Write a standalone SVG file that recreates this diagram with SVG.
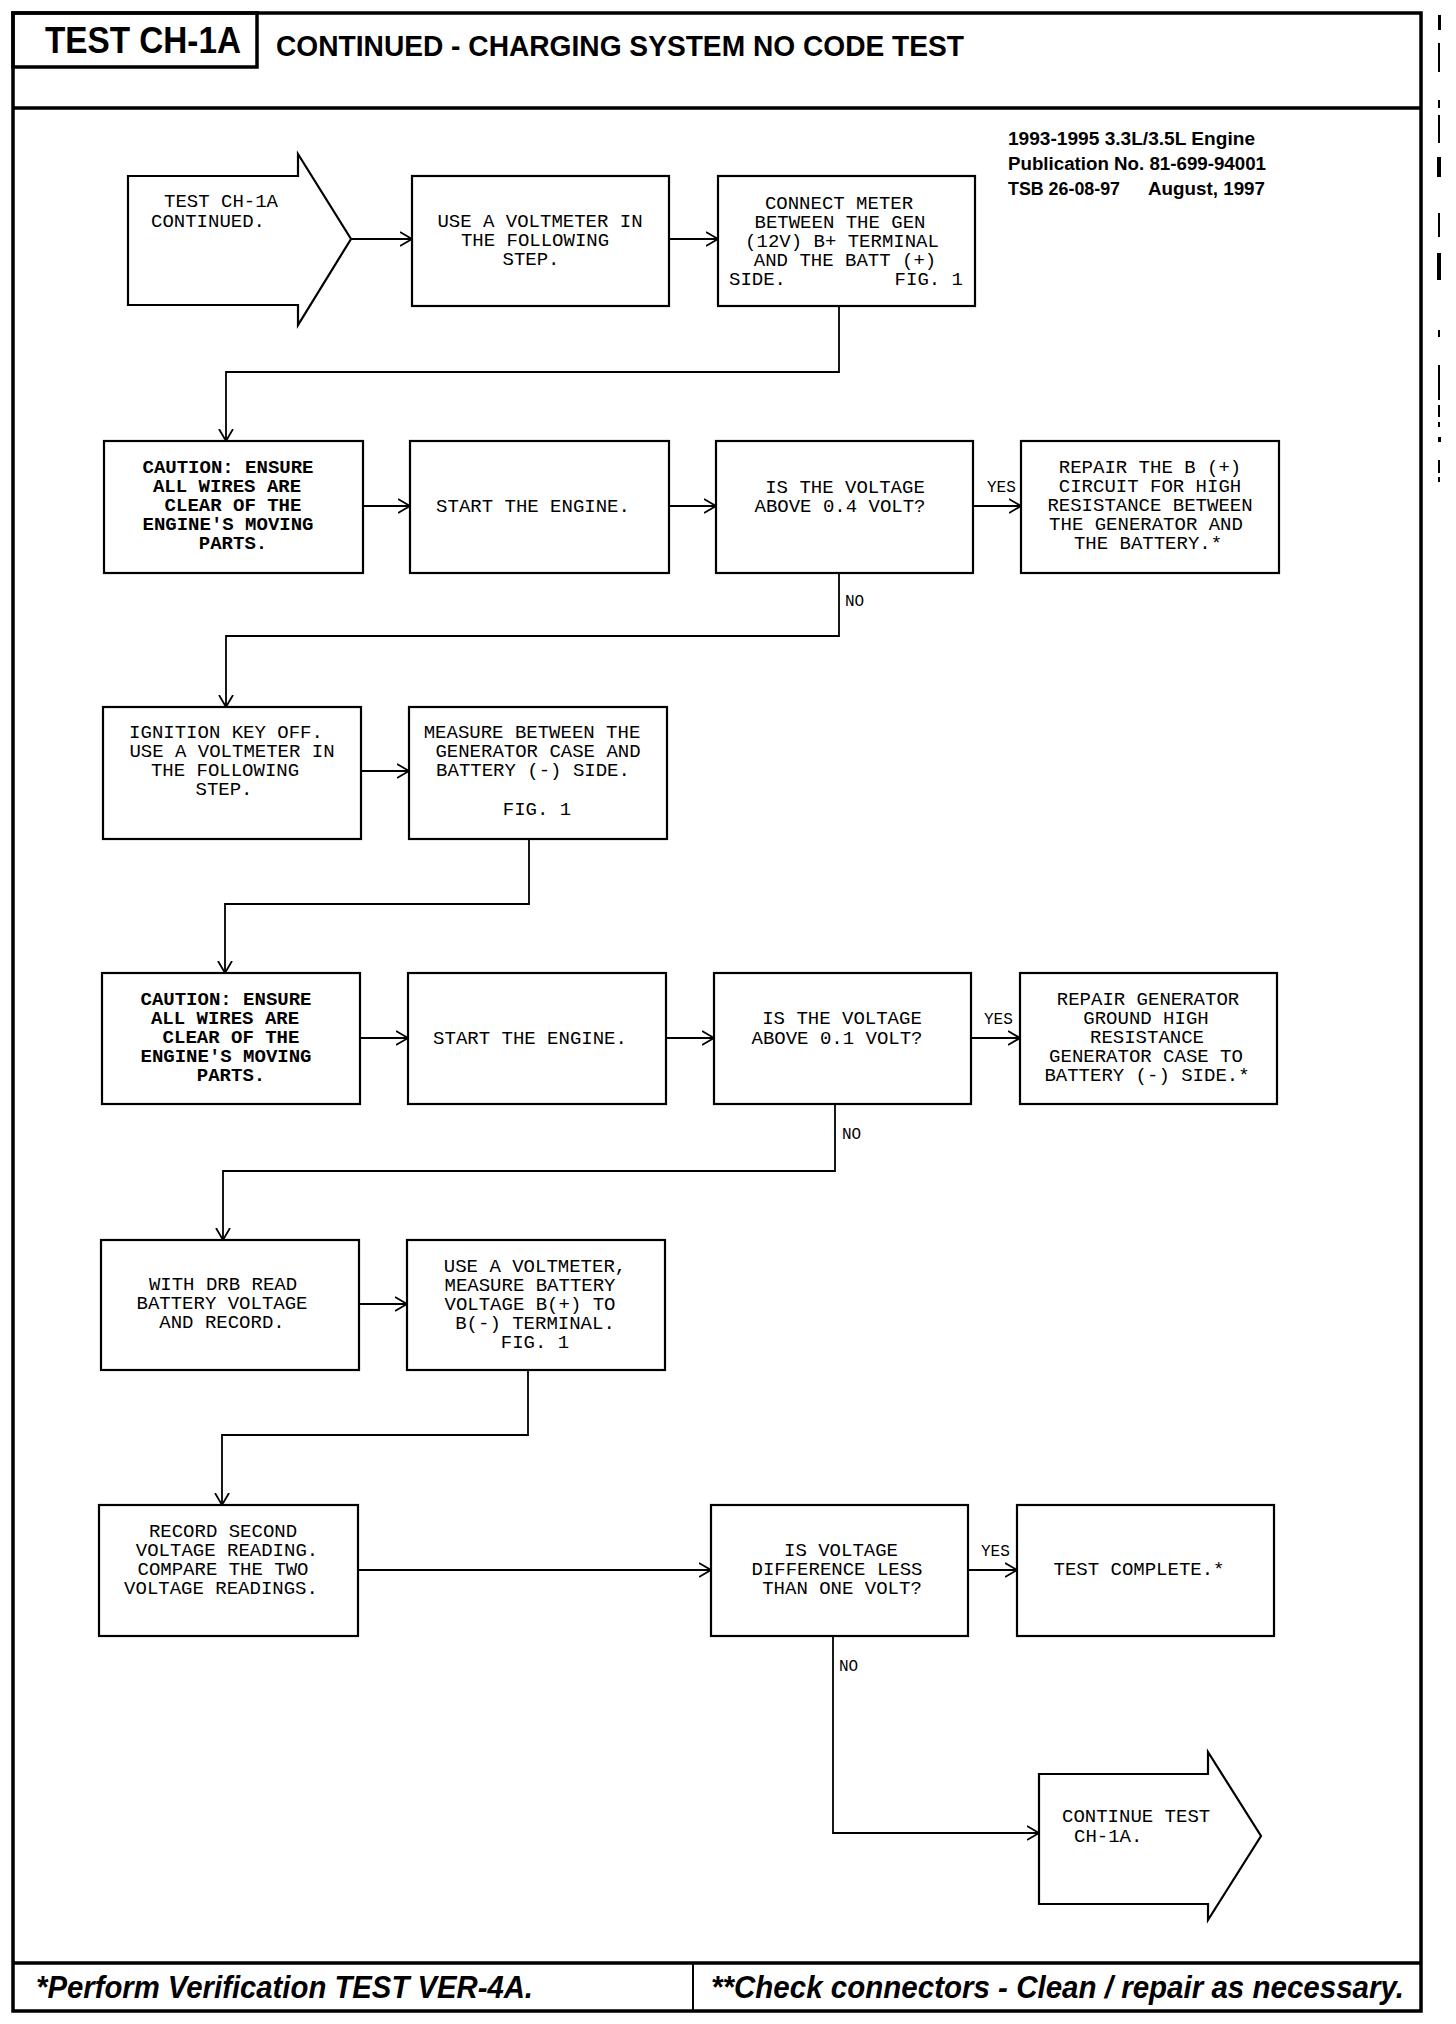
<svg xmlns="http://www.w3.org/2000/svg" width="1456" height="2024" viewBox="0 0 1456 2024">
<defs>
<marker id="ah" markerUnits="userSpaceOnUse" markerWidth="16" markerHeight="18" refX="12" refY="8" orient="auto">
<path d="M0,1 L12,8 L0,15" fill="none" stroke="#000" stroke-width="1.8"/>
</marker>
<style>
.frame{fill:none;stroke:#000;stroke-width:3.5}
.box{fill:#fff;stroke:#000;stroke-width:2.2}
.conn{fill:none;stroke:#000;stroke-width:1.8}
.t{font-family:"Liberation Mono","Courier New",monospace;font-size:19px;fill:#000}
.c{text-anchor:middle}
.b{font-weight:bold}
.lbl{font-family:"Liberation Mono","Courier New",monospace;font-size:16px;fill:#000}
.hd{font-family:"Liberation Sans",Arial,sans-serif;font-weight:bold;fill:#000}
.ft{font-family:"Liberation Sans",Arial,sans-serif;font-weight:bold;font-style:italic;fill:#000;font-size:31px}
.pub{font-family:"Liberation Sans",Arial,sans-serif;font-weight:bold;fill:#000;font-size:18px}
.mk{fill:#000}
</style>
</defs>
<rect width="1456" height="2024" fill="#fff"/>

<g id="page-frame">
<rect class="frame" x="13" y="13" width="1408" height="1998"/>
<line class="frame" x1="13" y1="108" x2="1421" y2="108"/>
<rect class="frame" x="13" y="13" width="244" height="54"/>
<line class="frame" x1="13" y1="1963" x2="1421" y2="1963"/>
<line x1="693" y1="1963" x2="693" y2="2011" stroke="#000" stroke-width="2"/>
</g>

<g id="header">
<text class="hd" x="45" y="53" font-size="36" textLength="196" lengthAdjust="spacingAndGlyphs">TEST CH-1A</text>
<text class="hd" x="276" y="56" font-size="29" textLength="688" lengthAdjust="spacingAndGlyphs">CONTINUED - CHARGING SYSTEM NO CODE TEST</text>
<text class="pub" x="1008" y="145" textLength="247" lengthAdjust="spacingAndGlyphs">1993-1995 3.3L/3.5L Engine</text>
<text class="pub" x="1008" y="170" textLength="258" lengthAdjust="spacingAndGlyphs">Publication No. 81-699-94001</text>
<text class="pub" x="1008" y="195" textLength="112" lengthAdjust="spacingAndGlyphs">TSB 26-08-97</text>
<text class="pub" x="1148" y="195" textLength="117" lengthAdjust="spacingAndGlyphs">August, 1997</text>
</g>

<g id="margin-marks">
<rect class="mk" x="1438" y="15" width="3" height="15"/>
<rect class="mk" x="1438" y="43" width="2" height="29"/>
<rect class="mk" x="1438" y="100" width="2" height="8"/>
<rect class="mk" x="1438" y="115" width="2" height="28"/>
<rect class="mk" x="1437" y="157" width="4" height="20"/>
<rect class="mk" x="1438" y="213" width="2" height="24"/>
<rect class="mk" x="1437" y="253" width="4" height="27"/>
<rect class="mk" x="1438" y="330" width="2" height="7"/>
<rect class="mk" x="1438" y="365" width="2" height="35"/>
<rect class="mk" x="1438" y="405" width="2" height="12"/>
<rect class="mk" x="1438" y="422" width="2" height="5"/>
<rect class="mk" x="1438" y="437" width="3" height="5"/>
<rect class="mk" x="1438" y="460" width="2" height="13"/>
<rect class="mk" x="1438" y="477" width="2" height="5"/>
</g>

<g id="connectors">
<path class="conn" d="M351,239 H412" marker-end="url(#ah)"/>
<path class="conn" d="M669,239 H718" marker-end="url(#ah)"/>
<path class="conn" d="M839,306 V372 H226 V441" marker-end="url(#ah)"/>
<path class="conn" d="M363,506 H410" marker-end="url(#ah)"/>
<path class="conn" d="M669,506 H716" marker-end="url(#ah)"/>
<path class="conn" d="M973,506 H1021" marker-end="url(#ah)"/>
<path class="conn" d="M839,573 V636 H226 V707" marker-end="url(#ah)"/>
<path class="conn" d="M361,771 H409" marker-end="url(#ah)"/>
<path class="conn" d="M529,839 V904 H225 V973" marker-end="url(#ah)"/>
<path class="conn" d="M360,1038 H408" marker-end="url(#ah)"/>
<path class="conn" d="M666,1038 H714" marker-end="url(#ah)"/>
<path class="conn" d="M971,1038 H1020" marker-end="url(#ah)"/>
<path class="conn" d="M835,1104 V1171 H223 V1240" marker-end="url(#ah)"/>
<path class="conn" d="M359,1304 H407" marker-end="url(#ah)"/>
<path class="conn" d="M528,1370 V1435 H222 V1505" marker-end="url(#ah)"/>
<path class="conn" d="M358,1570 H711" marker-end="url(#ah)"/>
<path class="conn" d="M968,1570 H1017" marker-end="url(#ah)"/>
<path class="conn" d="M833,1636 V1833 H1039" marker-end="url(#ah)"/>
<text class="lbl" x="987" y="492">YES</text>
<text class="lbl" x="845" y="606">NO</text>
<text class="lbl" x="984" y="1024">YES</text>
<text class="lbl" x="842" y="1139">NO</text>
<text class="lbl" x="981" y="1556">YES</text>
<text class="lbl" x="839" y="1671">NO</text>
</g>

<g id="start">
<polygon class="box" points="128,176 298,176 298,154 351,239 298,325 298,305 128,305"/>
<text class="t" x="164" y="207">TEST CH-1A</text>
<text class="t" x="151" y="227">CONTINUED.</text>
</g>

<g id="use-voltmeter-1">
<rect class="box" x="412" y="176" width="257" height="130"/>
<text class="t c" x="540" y="227">USE A VOLTMETER IN</text>
<text class="t c" x="535" y="246">THE FOLLOWING</text>
<text class="t c" x="531" y="265">STEP.</text>
</g>

<g id="connect-meter">
<rect class="box" x="718" y="176" width="257" height="130"/>
<text class="t c" x="839" y="209">CONNECT METER</text>
<text class="t c" x="840" y="228">BETWEEN THE GEN</text>
<text class="t c" x="842" y="247">(12V) B+ TERMINAL</text>
<text class="t c" x="845" y="266">AND THE BATT (+)</text>
<text class="t" x="729" y="285">SIDE.</text>
<text class="t" x="963" y="285" text-anchor="end">FIG. 1</text>
</g>

<g id="caution-1">
<rect class="box" x="104" y="441" width="259" height="132"/>
<text class="t c b" x="228" y="473">CAUTION: ENSURE</text>
<text class="t c b" x="227" y="492">ALL WIRES ARE</text>
<text class="t c b" x="233" y="511">CLEAR OF THE</text>
<text class="t c b" x="228" y="530">ENGINE'S MOVING</text>
<text class="t c b" x="233" y="549">PARTS.</text>
</g>

<g id="start-engine-1">
<rect class="box" x="410" y="441" width="259" height="132"/>
<text class="t c" x="533" y="512">START THE ENGINE.</text>
</g>

<g id="decision-04">
<rect class="box" x="716" y="441" width="257" height="132"/>
<text class="t c" x="845" y="493">IS THE VOLTAGE</text>
<text class="t c" x="840" y="512">ABOVE 0.4 VOLT?</text>
</g>

<g id="repair-b-plus">
<rect class="box" x="1021" y="441" width="258" height="132"/>
<text class="t c" x="1150" y="473">REPAIR THE B (+)</text>
<text class="t c" x="1150" y="492">CIRCUIT FOR HIGH</text>
<text class="t c" x="1150" y="511">RESISTANCE BETWEEN</text>
<text class="t c" x="1146" y="530">THE GENERATOR AND</text>
<text class="t c" x="1148" y="549">THE BATTERY.*</text>
</g>

<g id="ignition-off">
<rect class="box" x="103" y="707" width="258" height="132"/>
<text class="t c" x="226" y="738">IGNITION KEY OFF.</text>
<text class="t c" x="232" y="757">USE A VOLTMETER IN</text>
<text class="t c" x="225" y="776">THE FOLLOWING</text>
<text class="t c" x="224" y="795">STEP.</text>
</g>

<g id="measure-case">
<rect class="box" x="409" y="707" width="258" height="132"/>
<text class="t c" x="532" y="738">MEASURE BETWEEN THE</text>
<text class="t c" x="538" y="757">GENERATOR CASE AND</text>
<text class="t c" x="533" y="776">BATTERY (-) SIDE.</text>
<text class="t c" x="537" y="815">FIG. 1</text>
</g>

<g id="caution-2">
<rect class="box" x="102" y="973" width="258" height="131"/>
<text class="t c b" x="226" y="1005">CAUTION: ENSURE</text>
<text class="t c b" x="225" y="1024">ALL WIRES ARE</text>
<text class="t c b" x="231" y="1043">CLEAR OF THE</text>
<text class="t c b" x="226" y="1062">ENGINE'S MOVING</text>
<text class="t c b" x="231" y="1081">PARTS.</text>
</g>

<g id="start-engine-2">
<rect class="box" x="408" y="973" width="258" height="131"/>
<text class="t c" x="530" y="1044">START THE ENGINE.</text>
</g>

<g id="decision-01">
<rect class="box" x="714" y="973" width="257" height="131"/>
<text class="t c" x="842" y="1024">IS THE VOLTAGE</text>
<text class="t c" x="837" y="1044">ABOVE 0.1 VOLT?</text>
</g>

<g id="repair-ground">
<rect class="box" x="1020" y="973" width="257" height="131"/>
<text class="t c" x="1148" y="1005">REPAIR GENERATOR</text>
<text class="t c" x="1146" y="1024">GROUND HIGH</text>
<text class="t c" x="1147" y="1043">RESISTANCE</text>
<text class="t c" x="1146" y="1062">GENERATOR CASE TO</text>
<text class="t c" x="1147" y="1081">BATTERY (-) SIDE.*</text>
</g>

<g id="drb-read">
<rect class="box" x="101" y="1240" width="258" height="130"/>
<text class="t c" x="223" y="1290">WITH DRB READ</text>
<text class="t c" x="222" y="1309">BATTERY VOLTAGE</text>
<text class="t c" x="222" y="1328">AND RECORD.</text>
</g>

<g id="measure-battery">
<rect class="box" x="407" y="1240" width="258" height="130"/>
<text class="t c" x="535" y="1272">USE A VOLTMETER,</text>
<text class="t c" x="530" y="1291">MEASURE BATTERY</text>
<text class="t c" x="530" y="1310">VOLTAGE B(+) TO</text>
<text class="t c" x="535" y="1329">B(-) TERMINAL.</text>
<text class="t c" x="535" y="1348">FIG. 1</text>
</g>

<g id="record-second">
<rect class="box" x="99" y="1505" width="259" height="131"/>
<text class="t c" x="223" y="1537">RECORD SECOND</text>
<text class="t c" x="227" y="1556">VOLTAGE READING.</text>
<text class="t c" x="223" y="1575">COMPARE THE TWO</text>
<text class="t c" x="221" y="1594">VOLTAGE READINGS.</text>
</g>

<g id="decision-diff">
<rect class="box" x="711" y="1505" width="257" height="131"/>
<text class="t c" x="841" y="1556">IS VOLTAGE</text>
<text class="t c" x="837" y="1575">DIFFERENCE LESS</text>
<text class="t c" x="842" y="1594">THAN ONE VOLT?</text>
</g>

<g id="test-complete">
<rect class="box" x="1017" y="1505" width="257" height="131"/>
<text class="t c" x="1139" y="1575">TEST COMPLETE.*</text>
</g>

<g id="continue">
<polygon class="box" points="1039,1774 1208,1774 1208,1752 1261,1836 1208,1920 1208,1904 1039,1904"/>
<text class="t" x="1062" y="1822">CONTINUE TEST</text>
<text class="t" x="1074" y="1842">CH-1A.</text>
</g>

<g id="footer">
<text class="ft" x="36" y="1998" textLength="497" lengthAdjust="spacingAndGlyphs">*Perform Verification TEST VER-4A.</text>
<text class="ft" x="711" y="1998" textLength="693" lengthAdjust="spacingAndGlyphs">**Check connectors - Clean / repair as necessary.</text>
</g>
</svg>
